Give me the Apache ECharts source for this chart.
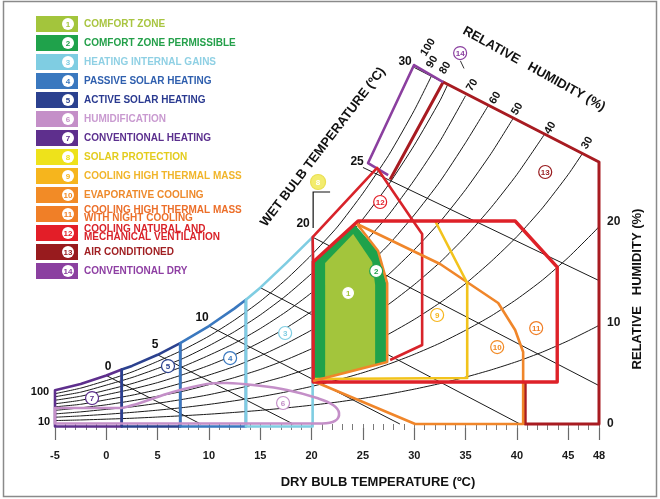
<!DOCTYPE html>
<html>
<head>
<meta charset="utf-8">
<script src="https://cdn.jsdelivr.net/npm/echarts@6/dist/echarts.min.js"></script>
<style>
  html, body { margin: 0; padding: 0; background: #fff; }
  #chart { width: 660px; height: 499px; }
</style>
</head>
<body>
<div id="chart"></div>
<script>
const FONT = '"Liberation Sans", Arial, Helvetica, sans-serif';

// ---- axes ----
const tempTicks = [-5, 0, 5, 10, 15, 20, 25, 30, 35, 40, 45, 48];
const humidityTicks = [0, 10, 20];

// ---- saturation boundary (100 %) along the heating bands ----
const satT = [-5, -2.5, 0, 1.5, 2.5, 5, 7.2, 10, 12.5, 13.6, 15, 17.5, 20.1];
const satW = [3.35, 3.95, 4.8, 5.4, 5.75, 6.85, 8.0, 9.7, 11.45, 12.3, 13.5, 15.9, 18.5];
// band limits: conventional heating | active solar | passive solar | internal gains
const heatingLimits = [-5, 1.5, 7.2, 13.6, 20.1];

// ---- relative humidity curves [dry bulb, humidity] ----
const rh90 = [[-5,3.0],[-2.5,3.55],[0,4.3],[2.5,5.15],[5,6.2],[7.5,7.35],[10,8.7],[12.5,10.3],[15,12.15],[17.5,14.3],[20,16.75],[22.5,19.5],[25,22.85],[27.5,26.6],[30,31.05],[31.7,34.5]];
const rh80 = [[-5,2.7],[-2.5,3.15],[0,3.85],[2.5,4.6],[5,5.5],[7.5,6.5],[10,7.75],[12.5,9.15],[15,10.8],[17.5,12.7],[20,14.9],[22.5,17.35],[25,20.3],[27.5,23.7],[30,27.6],[32.5,32.0],[33.3,33.7]];
const rh70 = [[-5,2.35],[-2.5,2.75],[0,3.35],[2.5,4.0],[5,4.8],[7.5,5.7],[10,6.8],[12.5,8.0],[15,9.45],[17.5,11.1],[20,13.0],[22.5,15.2],[25,17.8],[27.5,20.7],[30,24.15],[32.5,28.0],[35,32.5]];
const rh60 = [[-5,2.0],[-2.5,2.35],[0,2.9],[2.5,3.45],[5,4.1],[7.5,4.9],[10,5.8],[12.5,6.85],[15,8.1],[17.5,9.5],[20,11.15],[22.5,13.0],[25,15.25],[27.5,17.75],[30,20.7],[32.5,24.0],[35,27.85],[37.2,31.5]];
const rh50 = [[-5,1.7],[-2.5,1.95],[0,2.4],[2.5,2.85],[5,3.4],[7.5,4.1],[10,4.85],[12.5,5.7],[15,6.75],[17.5,7.95],[20,9.3],[22.5,10.85],[25,12.7],[27.5,14.8],[30,17.25],[32.5,20.0],[35,23.2],[37.5,26.8],[39.6,30.2]];
const rh40 = [[-5,1.35],[-2.5,1.6],[0,1.9],[2.5,2.3],[5,2.75],[7.5,3.25],[10,3.9],[12.5,4.6],[15,5.4],[17.5,6.35],[20,7.45],[22.5,8.7],[25,10.15],[27.5,11.85],[30,13.8],[32.5,16.0],[35,18.55],[37.5,21.45],[40,24.7],[42.7,28.7]];
const rh30 = [[-5,1.0],[-2.5,1.2],[0,1.45],[2.5,1.7],[5,2.05],[7.5,2.45],[10,2.9],[12.5,3.45],[15,4.05],[17.5,4.75],[20,5.6],[22.5,6.5],[25,7.6],[27.5,8.9],[30,10.35],[32.5,12.0],[35,13.9],[37.5,16.1],[40,18.55],[42.5,21.4],[45,24.7],[46.4,26.8]];
const rh20 = [[-5,0.67],[-2.5,0.8],[0,0.96],[2.5,1.15],[5,1.37],[7.5,1.63],[10,1.94],[12.5,2.3],[15,2.7],[17.5,3.17],[20,3.72],[22.5,4.35],[25,5.08],[27.5,5.92],[30,6.9],[32.5,8.0],[35,9.28],[37.5,10.7],[40,12.36],[42.5,14.26],[45,16.48],[47.5,19.0],[48,19.54]];
const rh10 = [[-5,0.34],[-2.5,0.4],[0,0.48],[2.5,0.57],[5,0.69],[7.5,0.82],[10,0.97],[12.5,1.15],[15,1.35],[17.5,1.59],[20,1.86],[22.5,2.17],[25,2.54],[27.5,2.96],[30,3.45],[32.5,4.0],[35,4.64],[37.5,5.36],[40,6.18],[42.5,7.13],[45,8.24],[47.5,9.5],[48,9.77]];
const rhCurves = [rh90, rh80, rh70, rh60, rh50, rh40, rh30, rh20, rh10];

// curve labels
const rhLabels = ['100', '90', '80', '70', '60', '50', '40', '30'];
const rhLabelT = [31.35, 31.74, 33.01, 35.64, 37.88, 40.03, 43.24, 46.85];
const rhLabelW = [37.3, 35.84, 35.25, 33.56, 32.28, 31.2, 29.31, 27.82];
const edgeLabels = ['100', '10'];
const edgeLabelT = [-6.46, -6.07];
const edgeLabelW = [3.2, 0.2];

// ---- wet bulb lines ----
const wetBulb = [
  [[0, 4.8], [9.2, 0]],
  [[5, 6.85], [18.2, 0]],
  [[10, 9.7], [28.6, 0]],
  [[15, 13.5], [40.3, 0]],
  [[20.1, 18.5], [48, 3.8]],
  [[25, 25.4], [48, 14.2]],
  [[30, 35.3], [48, 25.9]]
];
const wbLabels = ['0', '5', '10', '20', '25', '30'];
const wbLabelT = [0.17, 4.75, 9.33, 19.17, 24.43, 29.11];
const wbLabelW = [5.64, 7.82, 10.5, 19.8, 26.0, 35.84];

// ---- strategy zones ----
const zoneComfort = [[21.32,4.65],[21.32,15.94],[24.05,18.8],[25.9,16.04],[26.19,13.76],[26.19,5.84]];
const zonePermissible = [[20.15,4.26],[20.15,16.04],[24.24,19.7],[26.48,17.13],[27.26,13.96],[27.26,6.14]];
const zoneHumidTop = [[1.53,1.58],[3.28,2.08],[6.5,3.17],[9.81,3.96],[11.76,4.06],[14.29,3.86],[17.6,3.37],[20.53,2.57],[22.09,1.88],[22.67,1.09],[22.28,0.3],[21.01,0.05]];
const zoneHumidBase = [[21.01,0.05],[-5,0.05],[-5,1.58],[1.53,1.58]];
const zoneThermalMass = [[32.04,20.1],[35.16,13.96],[35.16,4.55],[20.15,4.46]];
const zoneEvapInner = [[20.15,4.26],[27.36,6.14],[27.36,13.96],[26.48,17.13],[24.43,19.8]];
const zoneEvapOuter = [[24.43,19.8],[32.52,15.84],[38.18,11.98],[39.83,9.31],[40.61,7.13],[40.61,0],[30.09,0],[20.15,4.26]];
const zoneNightCooling = [[20.15,16.04],[24.53,20.1],[39.83,20.1],[43.93,15.54],[43.93,4.16],[20.15,4.16]];
const zoneVentilation = [[20.15,16.04],[20.1,18.5],[26.38,25.35],[29.89,20.1],[30.77,18.81],[30.77,7.82],[27.65,6.34]];
const zoneAirCond = [[27.65,24.2],[32.82,33.86],[48,25.94],[48,0],[40.81,0],[40.81,4.16]];
const zoneDry = [[27.46,24.65],[25.5,25.84],[29.98,35.54],[32.82,33.86]];
const arrowSolar = [[20.15,19.41],[20.15,22.97],[21.8,22.97]];
const arrowDry = [[34.5,35.95],[34.85,35.2]];

// zone number markers
const zoneLabelT = [23.56, 26.29, 17.42, 12.06, 6.01, 17.22, -1.39, 20.63, 32.23, 38.08, 41.88, 26.68, 42.76, 34.47];
const zoneLabelW = [12.97, 15.15, 9.01, 6.53, 5.74, 2.08, 2.57, 23.96, 10.79, 7.62, 9.5, 21.98, 24.95, 36.73];

// ---- legend ----
const legendNames = [
  'COMFORT ZONE', 'COMFORT ZONE PERMISSIBLE', 'HEATING INTERNAL GAINS', 'PASSIVE SOLAR HEATING',
  'ACTIVE SOLAR HEATING', 'HUMIDIFICATION', 'CONVENTIONAL HEATING', 'SOLAR PROTECTION',
  'COOLING HIGH THERMAL MASS', 'EVAPORATIVE COOLING', 'COOLING HIGH THERMAL MASS\nWITH NIGHT COOLING',
  'COOLING NATURAL AND\nMECHANICAL VENTILATION', 'AIR CONDITIONED', 'CONVENTIONAL DRY'
];
const zoneColors = ['#a3c53c','#1fa24b','#7fcde2','#3a78bf','#2b418f','#c48fc8','#5e2f8d',
                    '#eee21b','#f6b51d','#f28b26','#f07f27','#e31e28','#981b1e','#8b40a0'];
const legendTextColors = ['#a9c541','#24a04a','#8fd0e4','#2f5fae','#2a3a90','#c99ad0','#5b2f8e',
                          '#e3cc1d','#f1b52a','#ee8a2c','#ec6f2a','#d9232a','#a01f22','#8e3fa3'];

// ---------------------------------------------------------------
const series = [];

function shape(pts, opt) {
  series.push({
    type: 'custom', silent: true, animation: false, clip: false, z: opt.z || 4,
    data: [pts[0]],
    renderItem: function (params, api) {
      const points = pts.map(p => api.coord(p));
      return {
        type: opt.closed ? 'polygon' : 'polyline',
        shape: { points: points, smooth: opt.smooth || 0 },
        style: {
          fill: opt.fill || 'none',
          stroke: opt.stroke || 'none',
          lineWidth: opt.width || 0,
          lineJoin: 'round'
        }
      };
    }
  });
}

function texts(labels, tArr, wArr, opt) {
  series.push({
    type: 'custom', silent: true, animation: false, clip: false, z: 6,
    data: tArr.map((t, i) => [t, wArr[i]]),
    renderItem: function (params, api) {
      const c = api.coord([tArr[params.dataIndex], wArr[params.dataIndex]]);
      return {
        type: 'text', x: c[0], y: c[1], rotation: (opt.rotate || 0) * Math.PI / 180,
        style: {
          text: labels[params.dataIndex], fill: opt.color || '#111',
          font: 'bold ' + opt.size + 'px ' + FONT, align: 'center', verticalAlign: 'middle'
        }
      };
    }
  });
}

// relative humidity curves
rhCurves.forEach(pts => series.push({
  type: 'line', data: pts, smooth: 0.2, showSymbol: false, symbol: 'none',
  clip: false, silent: true, animation: false, z: 2,
  lineStyle: { color: '#1a1a1a', width: 1 }
}));
// wet bulb lines
wetBulb.forEach(pts => series.push({
  type: 'line', data: pts, showSymbol: false, symbol: 'none', clip: false, silent: true,
  animation: false, z: 2, lineStyle: { color: '#1a1a1a', width: 1 }
}));

// comfort fills
shape(zonePermissible, { closed: true, fill: zoneColors[1], z: 3 });
shape(zoneComfort, { closed: true, fill: zoneColors[0], z: 3 });

// heating bands below saturation
const heatColors = [zoneColors[6], zoneColors[4], zoneColors[3], zoneColors[2]];
const satPts = satT.map((t, i) => [t, satW[i]]);
for (let k = 0; k < 4; k++) {
  const a = heatingLimits[k], b = heatingLimits[k + 1];
  const top = satPts.filter(p => p[0] >= a - 1e-9 && p[0] <= b + 1e-9);
  shape([[a, -0.25]].concat(top, [[b, -0.25]]), { closed: true, stroke: heatColors[k], width: 2.6, z: 4 });
}

// humidification
shape(zoneHumidBase, { stroke: zoneColors[5], width: 2.6, z: 4 });
shape(zoneHumidTop, { stroke: zoneColors[5], width: 2.6, smooth: 0.4, z: 4 });

// cooling strategies
shape(zoneAirCond, { stroke: '#a81b21', width: 3, z: 4 });
shape(zoneDry, { stroke: '#8b3f9f', width: 2.6, z: 4 });
shape(zoneVentilation, { stroke: '#d8232a', width: 2.6, z: 4 });
shape(zoneEvapOuter, { stroke: '#f0862a', width: 2.6, z: 4 });
shape(zoneThermalMass, { stroke: '#f2c31c', width: 2.6, z: 4 });
shape(zoneNightCooling, { closed: true, stroke: '#de2128', width: 3.4, z: 5 });
shape(zoneEvapInner, { stroke: '#f0862a', width: 2.6, z: 5 });

// arrows
series.push({
  type: 'lines', coordinateSystem: 'cartesian2d', polyline: true, silent: true, animation: false, z: 6,
  symbol: ['none', 'arrow'], symbolSize: 7,
  lineStyle: { color: '#111', width: 1.2, opacity: 1 },
  data: [{ coords: arrowSolar }]
});
series.push({
  type: 'lines', coordinateSystem: 'cartesian2d', polyline: true, silent: true, animation: false, z: 6,
  symbol: ['none', 'arrow'], symbolSize: 4,
  lineStyle: { color: '#333', width: 1, opacity: 1 },
  data: [{ coords: arrowDry }]
});

// zone number markers
series.push({
  type: 'custom', silent: true, animation: false, clip: false, z: 7,
  data: zoneLabelT.map((t, i) => [t, zoneLabelW[i]]),
  renderItem: function (params, api) {
    const i = params.dataIndex;
    const c = api.coord([zoneLabelT[i], zoneLabelW[i]]);
    const solar = i === 7;
    return {
      type: 'group', children: [
        { type: 'circle', shape: { cx: c[0], cy: c[1], r: solar ? 7.5 : 6.5 },
          style: { fill: solar ? '#f3ec6e' : '#ffffff', stroke: solar ? '#eadf52' : zoneColors[i], lineWidth: 1.2 } },
        { type: 'text', x: c[0], y: c[1] + 0.5,
          style: { text: String(i + 1), fill: solar ? '#ffffff' : zoneColors[i],
                   font: 'bold 8px ' + FONT, align: 'center', verticalAlign: 'middle' } }
      ]
    };
  }
});

// curve labels
texts(wbLabels, wbLabelT, wbLabelW, { size: 12 });
texts(rhLabels, rhLabelT, rhLabelW, { size: 11, rotate: 58 });
texts(edgeLabels, edgeLabelT, edgeLabelW, { size: 11 });

// ---------------------------------------------------------------
const graphics = [];
graphics.push({ type: 'rect', silent: true, z: 0,
  shape: { x: 3.5, y: 1.5, width: 653, height: 495 },
  style: { fill: 'none', stroke: '#8a8a8a', lineWidth: 1.5 } });

legendNames.forEach((name, i) => {
  const yc = 24 + 19 * i;
  graphics.push({ type: 'rect', silent: true, shape: { x: 36, y: yc - 8, width: 42, height: 16 },
    style: { fill: zoneColors[i] } });
  graphics.push({ type: 'circle', silent: true, shape: { cx: 68, cy: yc, r: 6 },
    style: { fill: '#ffffff' } });
  graphics.push({ type: 'text', silent: true, x: 68, y: yc + 0.5,
    style: { text: String(i + 1), fill: zoneColors[i], font: 'bold 8px ' + FONT,
             align: 'center', verticalAlign: 'middle' } });
  graphics.push({ type: 'text', silent: true, x: 84, y: yc,
    style: { text: name, fill: legendTextColors[i], font: 'bold 10px ' + FONT,
             verticalAlign: 'middle', lineHeight: 8.5 } });
});

const titleFont = 'bold 13px ' + FONT;
graphics.push({ type: 'text', silent: true, x: 378, y: 482,
  style: { text: 'DRY BULB TEMPERATURE (ºC)', font: titleFont, fill: '#111', align: 'center', verticalAlign: 'middle' } });
graphics.push({ type: 'text', silent: true, x: 323, y: 147, rotation: 52.5 * Math.PI / 180,
  style: { text: 'WET BULB TEMPERATURE (ºC)', font: titleFont, fill: '#111', align: 'center', verticalAlign: 'middle' } });
graphics.push({ type: 'text', silent: true, x: 534, y: 69, rotation: -29 * Math.PI / 180,
  style: { text: 'RELATIVE   HUMIDITY (%)', font: titleFont, fill: '#111', align: 'center', verticalAlign: 'middle' } });
graphics.push({ type: 'text', silent: true, x: 637, y: 289, rotation: Math.PI / 2,
  style: { text: 'RELATIVE   HUMIDITY (%)', font: titleFont, fill: '#111', align: 'center', verticalAlign: 'middle' } });

// ---------------------------------------------------------------
const chart = echarts.init(document.getElementById('chart'));
chart.setOption({
  animation: false,
  backgroundColor: '#ffffff',
  grid: { left: 55, right: 61, top: 20, bottom: 75 },
  xAxis: [
    { type: 'value', min: -5, max: 48, interval: 1, position: 'bottom', offset: 4,
      axisLine: { show: false }, splitLine: { show: false }, axisLabel: { show: false },
      axisTick: { length: 6, lineStyle: { color: '#7a7a7a', width: 1 } } },
    { type: 'value', min: -5, max: 48, interval: 5, position: 'bottom', offset: 4,
      axisLine: { show: false }, splitLine: { show: false },
      axisTick: { customValues: tempTicks, length: 12, lineStyle: { color: '#6a6a6a', width: 1.2 } },
      axisLabel: { customValues: tempTicks, margin: 22, color: '#1a1a1a', fontSize: 11,
                   fontWeight: 'bold', fontFamily: FONT } }
  ],
  yAxis: {
    type: 'value', position: 'right', min: 0, max: 40, interval: 10,
    axisLine: { show: false }, axisTick: { show: false }, splitLine: { show: false },
    axisLabel: { customValues: humidityTicks, margin: 8, color: '#1a1a1a', fontSize: 12,
                 fontWeight: 'bold', fontFamily: FONT }
  },
  graphic: graphics,
  series: series
});
</script>
</body>
</html>
